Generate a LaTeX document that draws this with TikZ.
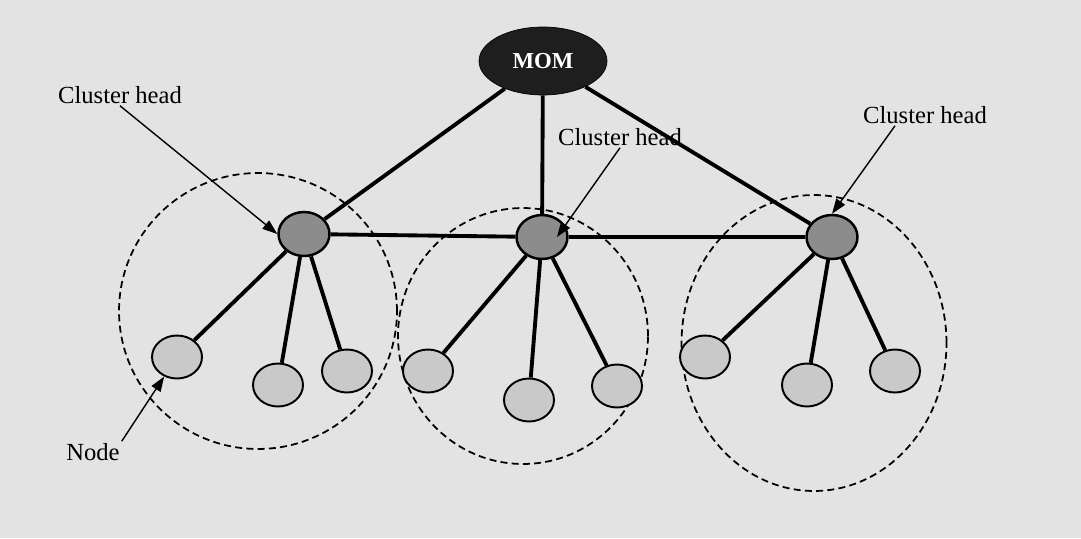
\documentclass[tikz,border=0pt]{standalone}
\usepackage{fontspec}
\setmainfont{Liberation Serif}
\usepackage{xcolor}
\usepackage{tikz}
\usetikzlibrary{positioning,shapes.geometric,arrows.meta}

\definecolor{paper}{HTML}{E3E3E3}
\definecolor{momgrey}{HTML}{1E1E1E}
\definecolor{headgrey}{HTML}{8C8C8C}
\definecolor{membergrey}{HTML}{C9C9C9}

\begin{document}
\begin{tikzpicture}[x=0.02cm, y=-0.02cm, >={Triangle[length=8.5pt,width=6pt]}]
    \tikzstyle{mom} = [draw, ellipse, fill=momgrey, text=white, font=\bfseries\fontsize{13}{15}\selectfont, minimum width=2.56cm, minimum height=1.36cm, inner sep=0pt]
    \tikzstyle{head} = [draw, ellipse, line width=1.4pt, fill=headgrey, minimum width=1.02cm, minimum height=0.88cm, inner sep=0pt]
    \tikzstyle{member} = [draw, ellipse, line width=1.1pt, fill=membergrey, minimum width=1.0cm, minimum height=0.86cm, inner sep=0pt]
    \tikzstyle{cluster} = [draw, ellipse, line width=1pt, dash pattern=on 4pt off 2.4pt, inner sep=0pt]
    \tikzstyle{link} = [line width=2.2pt]
    \tikzstyle{pointer} = [->, line width=0.8pt]
    \tikzstyle{tagtext} = [font=\fontsize{14}{16}\selectfont, inner sep=1pt]

    \fill[paper] (0,0) rectangle (1081,538);
    \useasboundingbox (0,0) rectangle (1081,538);

    \node[cluster, minimum width=5.56cm, minimum height=5.52cm] (c1) at (258,311) {};
    \node[cluster, minimum width=5.0cm, minimum height=5.12cm] (c2) at (523,336) {};
    \node[cluster, minimum width=5.3cm, minimum height=5.92cm] (c3) at (814,343) {};

    \node[mom] (mom) at (543,61) {MOM};

    \node[head] (h1) at (304,234) {};
    \node[head] (h2) at (542,237) {};
    \node[head] (h3) at (832,237) {};

    \node[member] (m1a) at (177,357) {};
    \node[member] (m1b) at (278,385) {};
    \node[member] (m1c) at (347,371) {};
    \node[member] (m2a) at (428,371) {};
    \node[member] (m2b) at (529,400) {};
    \node[member] (m2c) at (617,386) {};
    \node[member] (m3a) at (705,357) {};
    \node[member] (m3b) at (807,385) {};
    \node[member] (m3c) at (895,371) {};

    \draw[link] (mom) -- (h1);
    \draw[link] (mom) -- (h2);
    \draw[link] (mom) -- (h3);
    \draw[link] (h1) -- (h2);
    \draw[link] (h2) -- (h3);

    \draw[link] (h1) -- (m1a);
    \draw[link] (h1) -- (m1b);
    \draw[link] (h1) -- (m1c);
    \draw[link] (h2) -- (m2a);
    \draw[link] (h2) -- (m2b);
    \draw[link] (h2) -- (m2c);
    \draw[link] (h3) -- (m3a);
    \draw[link] (h3) -- (m3b);
    \draw[link] (h3) -- (m3c);

    \node[tagtext] (ch1) at (120,95) {Cluster head};
    \node[tagtext] (ch2) at (620,137) {Cluster head};
    \node[tagtext] (ch3) at (925,115) {Cluster head};
    \node[tagtext] (nd) at (93,452) {Node};

    \draw[pointer] (ch1.south) -- (h1.west);
    \draw[pointer] (ch2.south) -- ([xshift=0.3cm]h2.center);
    \draw[pointer] ([xshift=-0.6cm]ch3.south) -- (h3.north);
    \draw[pointer] (nd.north east) -- (m1a);
\end{tikzpicture}
\end{document}
